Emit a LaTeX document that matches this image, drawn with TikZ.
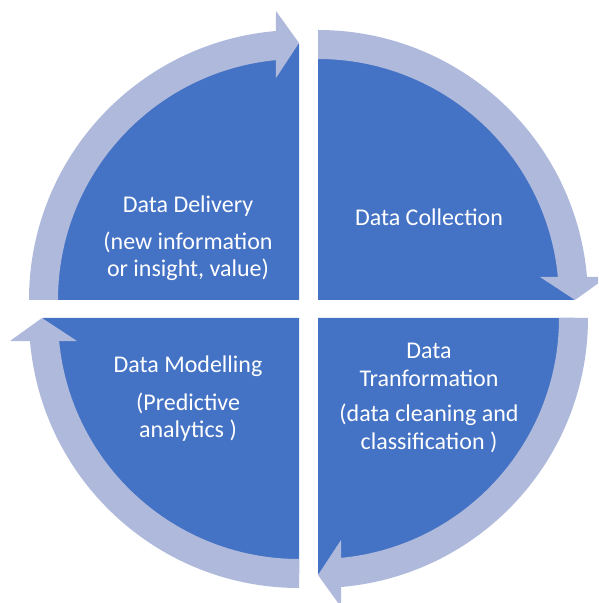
\documentclass[tikz,border=0pt]{standalone}
\usepackage{fontspec}
\setmainfont{Carlito}
\definecolor{segblue}{HTML}{4472C4}
\definecolor{ringblue}{HTML}{AEB9DC}
\tikzset{
  seg/.style={fill=segblue, draw=none},
  ringarrow/.style={fill=ringblue, draw=none},
  lbl/.style={text=white, font=\fontsize{24}{29}\selectfont, anchor=base, inner sep=0pt},
  quad/.pic={
    \fill[seg] (0,0) -- (180:256) arc[start angle=180, end angle=90, radius=256] -- cycle;
    \fill[ringarrow] (180:270) arc[start angle=180, end angle=94.9, radius=270]
      -- (-23,289) -- (0,257) -- (-23,222) -- (95.5:241)
      arc[start angle=95.5, end angle=180, radius=241] -- cycle;
  }
}
\begin{document}
\begin{tikzpicture}[x=1pt,y=1pt]
\useasboundingbox (0,0) rectangle (598,603);
\clip (0,0) rectangle (598,603);
\pic (qtl) at (299,303) {quad};
\pic[rotate=-90] (qtr) at (318,303) {quad};
\pic[rotate=-180] (qbr) at (318,285) {quad};
\pic[rotate=90] (qbl) at (299,285) {quad};
% top left
\node[lbl] (tl1) at (188,390) {Data Delivery};
\node[lbl] (tl2) at (188,353) {(new information};
\node[lbl] (tl3) at (188,326) {or insight, value)};
% top right
\node[lbl] (tr1) at (429,377) {Data Collection};
% bottom right
\node[lbl] (br1) at (429,244) {Data};
\node[lbl] (br2) at (429,216) {Tranformation};
\node[lbl] (br3) at (429,181) {(data cleaning and};
\node[lbl] (br4) at (429,153) {classification )};
% bottom left
\node[lbl] (bl1) at (188,230) {Data Modelling};
\node[lbl] (bl2) at (188,192) {(Predictive};
\node[lbl] (bl3) at (188,165) {analytics )};
\end{tikzpicture}
\end{document}
